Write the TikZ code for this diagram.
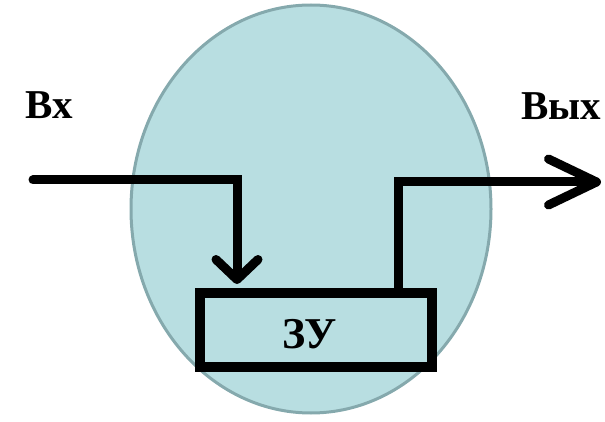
\documentclass[tikz,border=0pt]{standalone}
\usepackage{fontspec}
\setmainfont{Liberation Serif}
\usetikzlibrary{arrows.meta}
\definecolor{ovalfill}{HTML}{B8DEE1}
\definecolor{ovaledge}{HTML}{85A9AD}
\tikzset{
  lbl/.style={font=\bfseries\fontsize{41}{45}\selectfont, inner sep=0pt},
  wire/.style={line width=9pt, line cap=round, line join=miter},
  zubox/.style={draw, line width=10pt, minimum width=232pt, minimum height=74pt, inner sep=0pt},
  zutext/.style={font=\bfseries\fontsize{44}{48}\selectfont, inner sep=0pt},
}
\begin{document}
\begin{tikzpicture}[x=1pt,y=-1pt]
\useasboundingbox (0,0) rectangle (605,422);
\draw[fill=ovalfill, draw=ovaledge, line width=3pt] (311,209) ellipse [x radius=180pt, y radius=204pt];
\node[zubox] (zu) at (316,330) {};
\node[zutext] (zut) at (310,334) {ЗУ};
\node[lbl] (vx) at (49,105) {Вх};
\node[lbl] (vyx) at (561,106) {Вых};
\coordinate (in) at (33,180);
\coordinate (intip) at (237,284);
\coordinate (outsrc) at (398,293);
\coordinate (out) at (601,182);
\draw[wire, -{Straight Barb[length=20pt, width=42pt, round]}] (in) -| (intip);
\draw[wire, -{Straight Barb[length=48pt, width=46pt, round]}] (outsrc) |- (out);
\end{tikzpicture}
\end{document}
